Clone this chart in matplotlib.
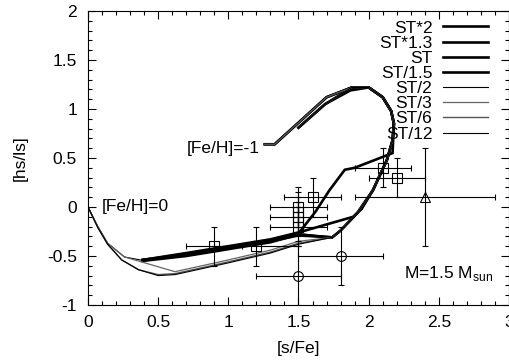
import matplotlib
matplotlib.use("Agg")
import matplotlib.pyplot as plt

plt.rcParams['font.family'] = ['Liberation Sans', 'DejaVu Sans']
plt.rcParams['mathtext.fontset'] = 'custom'
plt.rcParams['mathtext.rm'] = 'Liberation Sans'

# shared part of the tracks: steep rise and the loop at low metallicity
loop_x = [1.74, 1.80, 1.92, 2.03, 2.13, 2.17, 2.18, 2.16, 2.10, 2.00, 1.88]
loop_y = [-0.31, -0.24, -0.06, 0.17, 0.48, 0.68, 0.85, 0.98, 1.12, 1.22, 1.22]
end_a_x = [1.70, 1.33, 1.26]
end_a_y = [1.12, 0.64, 0.64]
end_b_x = [1.69, 1.50]
end_b_y = [1.05, 0.81]

# model tracks, [Fe/H]=0 -> [Fe/H]=-1
st_x2_x = [0.39, 0.7, 1.0, 1.3, 1.5] + loop_x + end_a_x
st_x2_y = [-0.54, -0.49, -0.42, -0.35, -0.29] + loop_y + end_a_y
st_x13_x = [0.39, 0.7, 1.0, 1.3, 1.5, 1.89, 1.95, 2.03, 2.13, 2.17, 2.18, 2.16, 2.10, 2.00, 1.87] + end_b_x
st_x13_y = [-0.54, -0.47, -0.40, -0.33, -0.26, -0.10, -0.02, 0.17, 0.48, 0.68, 0.85, 0.98, 1.12, 1.22, 1.19] + end_b_y
st_x = [0.39, 0.7, 1.0, 1.3, 1.5, 1.62, 1.72, 1.83, 1.90, 2.17, 2.18, 2.16, 2.10, 2.00, 1.88] + end_a_x
st_y = [-0.54, -0.48, -0.41, -0.34, -0.27, -0.05, 0.17, 0.38, 0.40, 0.55, 0.85, 0.98, 1.12, 1.22, 1.22] + end_a_y
st_d15_x = [0.39, 0.7, 1.0, 1.3, 1.5] + loop_x + end_b_x
st_d15_y = [-0.55, -0.50, -0.43, -0.36, -0.28] + loop_y + end_b_y
st_d2_x = [0.0, 0.07, 0.14, 0.26, 0.41, 0.7, 1.0, 1.3, 1.5] + loop_x + end_a_x
st_d2_y = [0.0, -0.2, -0.37, -0.51, -0.55, -0.48, -0.41, -0.34, -0.27] + loop_y + end_a_y
st_d3_x = [0.0, 0.07, 0.14, 0.26, 0.62, 1.0, 1.3, 1.5] + loop_x + end_b_x
st_d3_y = [0.0, -0.2, -0.37, -0.51, -0.66, -0.54, -0.44, -0.35] + loop_y + end_b_y
st_d6_x = [0.0, 0.07, 0.14, 0.24, 0.36, 0.5, 0.62, 1.0, 1.3, 1.5] + loop_x + end_a_x
st_d6_y = [0.0, -0.21, -0.38, -0.54, -0.64, -0.69, -0.68, -0.56, -0.46, -0.37] + loop_y + end_a_y
st_d12_x = [0.0, 0.07, 0.14, 0.24, 0.36, 0.5, 0.62, 1.0, 1.3, 1.5] + loop_x + end_b_x
st_d12_y = [0.0, -0.21, -0.38, -0.54, -0.64, -0.70, -0.69, -0.57, -0.47, -0.38] + loop_y + end_b_y

# observed stars
sq_x = [0.9, 1.2, 1.5, 1.5, 1.5, 1.5, 1.5, 1.6, 2.1, 2.2]
sq_y = [-0.4, -0.4, 0.0, -0.05, -0.1, -0.15, -0.2, 0.1, 0.4, 0.3]
sq_xerr = [0.2, 0.3, 0.2, 0.0, 0.2, 0.0, 0.2, 0.2, 0.2, 0.2]
sq_yerr = [0.2, 0.2, 0.2, 0.2, 0.2, 0.2, 0.2, 0.2, 0.2, 0.2]
circ_x = [1.8, 1.5]
circ_y = [-0.5, -0.7]
circ_xerr = [0.3, 0.3]
circ_yerr = [0.3, 0.3]
tri_x = [2.4]
tri_y = [0.1]
tri_xerr = [0.5]
tri_yerr = [0.5]

fs = 12.5
fig = plt.figure(figsize=(5.1, 3.6), dpi=100)
ax = fig.add_axes([88/510, 1-305/360, 421/510, 294/360])

tracks = [
    ('ST*2', st_x2_x, st_x2_y, 1.9, 'black'),
    ('ST*1.3', st_x13_x, st_x13_y, 1.9, 'black'),
    ('ST', st_x, st_y, 1.9, 'black'),
    ('ST/1.5', st_d15_x, st_d15_y, 1.9, 'black'),
    ('ST/2', st_d2_x, st_d2_y, 0.8, 'black'),
    ('ST/3', st_d3_x, st_d3_y, 0.9, '#666666'),
    ('ST/6', st_d6_x, st_d6_y, 1.0, '#555555'),
    ('ST/12', st_d12_x, st_d12_y, 0.8, 'black'),
]
for name, x, y, lw, c in tracks:
    ax.plot(x, y, color=c, lw=lw, label=name, solid_joinstyle='miter')

eb = dict(fmt='none', ecolor='black', elinewidth=0.8, capsize=2, capthick=0.8)
ax.errorbar(sq_x, sq_y, xerr=sq_xerr, yerr=sq_yerr, **eb)
ax.errorbar(circ_x, circ_y, xerr=circ_xerr, yerr=circ_yerr, **eb)
ax.errorbar(tri_x, tri_y, xerr=tri_xerr, yerr=tri_yerr, **eb)
ax.plot(sq_x, sq_y, 's', ms=6.5, mfc='none', mec='black', mew=0.8)
ax.plot(circ_x, circ_y, 'o', ms=7, mfc='none', mec='black', mew=0.8)
ax.plot(tri_x, tri_y, '^', ms=7, mfc='none', mec='black', mew=0.8)

ax.text(0.1, 0.0, '[Fe/H]=0', fontsize=fs, va='center')
ax.text(0.705, 0.60, '[Fe/H]=-1', fontsize=fs, va='center')
ax.text(2.89, -0.68, 'M=1.5 M$_{\\rm sun}$', fontsize=fs, va='center', ha='right')

ax.set_xlim(0, 3)
ax.set_ylim(-1, 2)
ax.set_xticks([0, 0.5, 1, 1.5, 2, 2.5, 3])
ax.set_xticklabels(['0', '0.5', '1', '1.5', '2', '2.5', '3'])
ax.set_yticks([-1, -0.5, 0, 0.5, 1, 1.5, 2])
ax.set_yticklabels(['-1', '-0.5', '0', '0.5', '1', '1.5', '2'])
ax.set_xticks([i / 10 for i in range(31)], minor=True)
ax.set_yticks([i / 10 - 1 for i in range(31)], minor=True)
ax.tick_params(which='both', direction='in', top=True, right=True, labelsize=fs, width=0.8)
ax.tick_params(axis='x', which='major', length=5.8, pad=7)
ax.tick_params(axis='y', which='major', length=5.8, pad=8)
ax.tick_params(which='minor', length=2.9)
for s in ax.spines.values():
    s.set_linewidth(0.8)
ax.set_xlabel('[s/Fe]', fontsize=fs, labelpad=8)
ax.set_ylabel('[hs/ls]', fontsize=fs, labelpad=14)

leg = ax.legend(loc='upper right', bbox_to_anchor=(0.95, 0.968), frameon=False,
                markerfirst=False, fontsize=fs, handlelength=2.6,
                handletextpad=0.6, labelspacing=0.0, borderpad=0, borderaxespad=0)

fig.savefig('out.png', dpi=100)
